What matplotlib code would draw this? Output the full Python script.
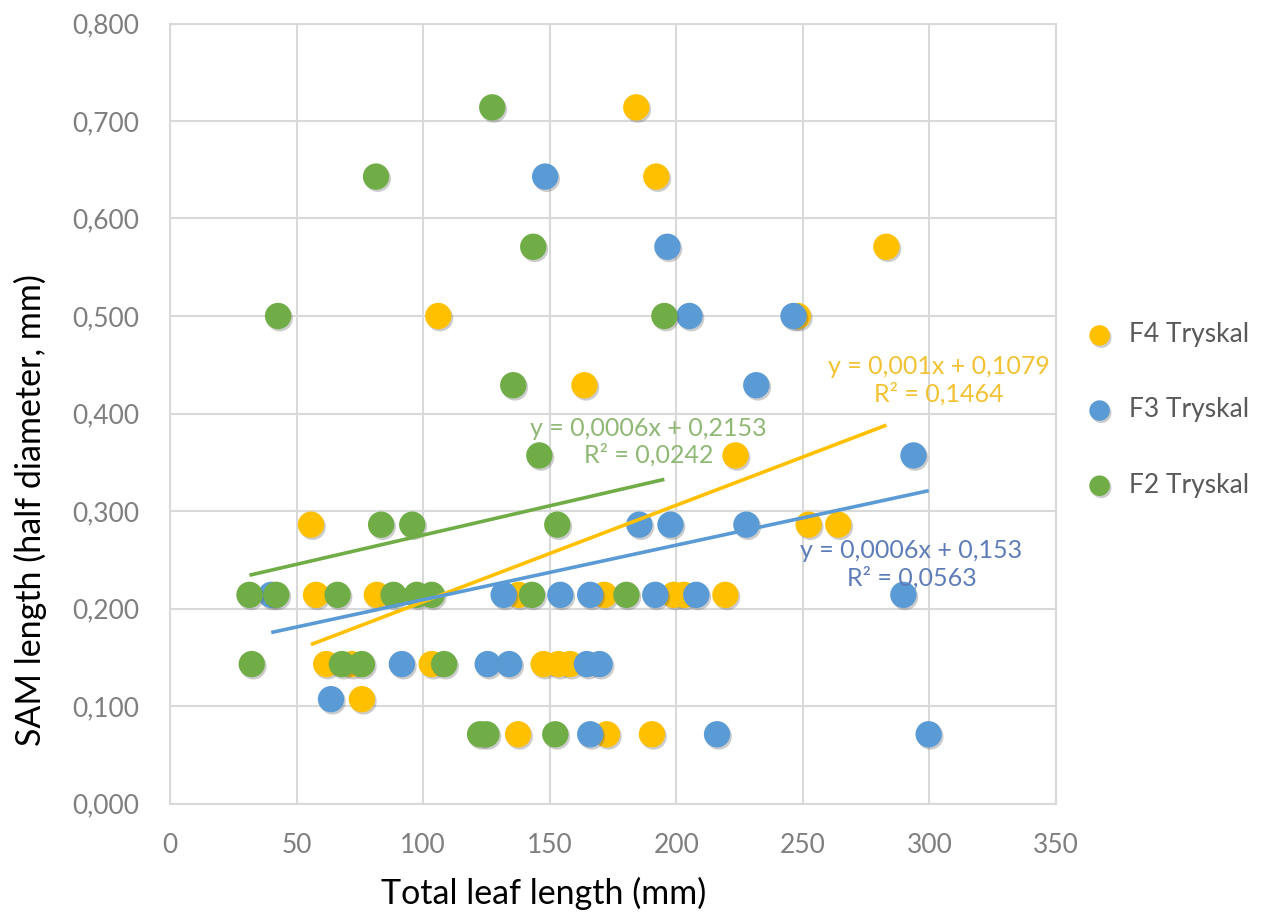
import numpy as np
import matplotlib.pyplot as plt
import matplotlib.patheffects as pe

# F4 Tryskal (yellow)
f4_x = [55.7, 57.7, 81.7, 61.7, 71.8, 103.4, 75.8, 137.7, 171.6, 199.0, 203.0, 219.4,
        147.6, 153.5, 158.1, 137.5, 172.6, 190.4, 184.2, 192.1, 283.0, 106.0, 248.0,
        163.7, 223.4, 252.3, 264.0]
f4_y = [0.286, 0.214, 0.214, 0.143, 0.143, 0.143, 0.107, 0.214, 0.214, 0.214, 0.214, 0.214,
        0.143, 0.143, 0.143, 0.071, 0.071, 0.071, 0.714, 0.643, 0.571, 0.500, 0.500,
        0.429, 0.357, 0.286, 0.286]

# F3 Tryskal (blue)
f3_x = [40.0, 131.8, 154.2, 166.0, 191.7, 207.9, 289.7, 91.6, 125.5, 134.0, 164.7, 169.7,
        63.6, 166.0, 216.1, 299.7, 148.2, 196.5, 205.2, 246.3, 231.6, 293.7, 185.4,
        197.7, 227.7]
f3_y = [0.214, 0.214, 0.214, 0.214, 0.214, 0.214, 0.214, 0.143, 0.143, 0.143, 0.143, 0.143,
        0.107, 0.071, 0.071, 0.071, 0.643, 0.571, 0.500, 0.500, 0.429, 0.357, 0.286,
        0.286, 0.286]

# F2 Tryskal (green)
f2_x = [31.4, 42.0, 66.2, 88.3, 97.5, 103.4, 143.0, 180.3, 32.3, 67.9, 75.8, 108.3,
        122.5, 125.0, 152.2, 83.4, 95.7, 153.0, 127.3, 81.4, 143.5, 42.7, 195.3,
        135.6, 145.9]
f2_y = [0.214, 0.214, 0.214, 0.214, 0.214, 0.214, 0.214, 0.214, 0.143, 0.143, 0.143, 0.143,
        0.071, 0.071, 0.071, 0.286, 0.286, 0.286, 0.714, 0.643, 0.571, 0.500, 0.500,
        0.429, 0.357]

# linear trend lines (slope, intercept) and their labels
trend_coef = {"F4": (0.00099, 0.1079), "F3": (0.00056, 0.153), "F2": (0.0006, 0.2153)}
trend_text = {"F4": "y = 0,001x + 0,1079\nR² = 0,1464",
              "F3": "y = 0,0006x + 0,153\nR² = 0,0563",
              "F2": "y = 0,0006x + 0,2153\nR² = 0,0242"}
trend_pos = {"F4": (303.6, 0.434), "F3": (292.9, 0.245), "F2": (189.0, 0.371)}

series = [
    ("F4", "F4 Tryskal", f4_x, f4_y, "#FFC000", "#F2C233"),
    ("F3", "F3 Tryskal", f3_x, f3_y, "#5B9BD5", "#5E7DB8"),
    ("F2", "F2 Tryskal", f2_x, f2_y, "#70AD47", "#8FB874"),
]

plt.rcParams['font.family'] = ['Lato', 'DejaVu Sans']

fig = plt.figure(figsize=(12.68, 9.16), dpi=100)
ax = fig.add_axes([170 / 1268, 1 - 803.5 / 916, 886 / 1268, 780 / 916])

shadow = [pe.SimplePatchShadow(offset=(1.2, -1.6), shadow_rgbFace="0.35", alpha=0.3), pe.Normal()]

handles = []
for key, label, xs, ys, col, tcol in series:
    sc = ax.scatter(xs, ys, s=360, color=col, edgecolors="none", zorder=3, label=label)
    sc.set_path_effects(shadow)
    handles.append(sc)

for key, label, xs, ys, col, tcol in series:
    m, b = trend_coef[key]
    xl = np.array([min(xs), max(xs)])
    ax.plot(xl, m * xl + b, color=col, lw=2.6, zorder=4, solid_capstyle="butt")
    tx, ty = trend_pos[key]
    ax.text(tx, ty, trend_text[key], color=tcol, fontsize=18, ha="center", va="center",
            linespacing=1.2, zorder=5)

ax.set_xlim(0, 350)
ax.set_ylim(0, 0.8)
ax.set_xticks(np.arange(0, 351, 50))
ax.set_yticks(np.arange(0, 0.81, 0.1))
ax.set_yticklabels([f"{v:.3f}".replace(".", ",") for v in np.arange(0, 0.81, 0.1)])
ax.tick_params(length=0, labelsize=19, colors="#7F7F7F")
ax.tick_params(axis="y", pad=22)
ax.tick_params(axis="x", pad=21)
ax.grid(color="#D9D9D9", lw=1.5)
ax.set_axisbelow(True)
for sp in ax.spines.values():
    sp.set_color("#D9D9D9")
    sp.set_linewidth(1.5)

fig.text(544 / 1268, 1 - 893 / 916, "Total leaf length (mm)", fontsize=24.5, ha="center", va="center")
fig.text(30 / 1268, 1 - 510 / 916, "SAM length (half diameter, mm)", fontsize=24.5,
         ha="center", va="center", rotation=90)

fig.legend(handles=handles, loc="center left", bbox_to_anchor=(1060 / 1268, 1 - 410 / 916),
           frameon=False, fontsize=19, labelspacing=1.9, markerscale=0.78, handletextpad=0.5,
           handlelength=1.2, labelcolor="#595959")

fig.savefig("out.png", dpi=100)
